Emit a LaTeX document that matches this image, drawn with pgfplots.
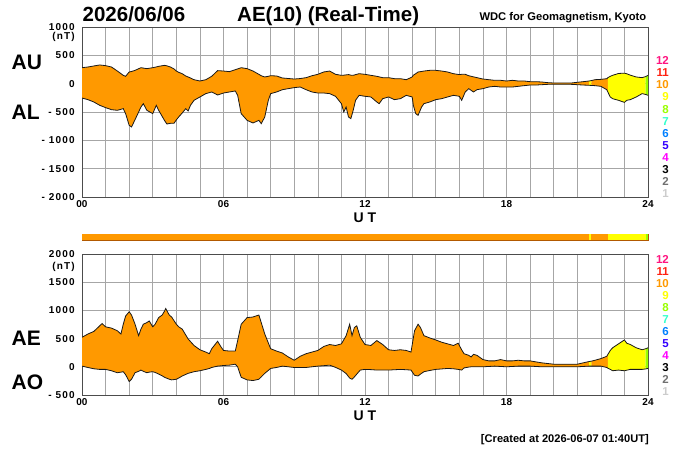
\documentclass[border=0pt]{standalone}
\usepackage{fontspec}
\setmainfont{Liberation Sans}
\usepackage{pgfplots}
\usepackage{pgfplotstable}
\usepgfplotslibrary{fillbetween}
\pgfplotsset{compat=1.18}
\definecolor{cOr}{HTML}{FF9900}
\definecolor{cYe}{HTML}{FFFF00}
\definecolor{cGr}{HTML}{99FF00}
\definecolor{n12}{HTML}{FF1480}
\definecolor{n11}{HTML}{FF2010}
\definecolor{n10}{HTML}{FF9900}
\definecolor{n9}{HTML}{FFFF00}
\definecolor{n8}{HTML}{99FF00}
\definecolor{n7}{HTML}{33FFCC}
\definecolor{n6}{HTML}{0080FF}
\definecolor{n5}{HTML}{3300FF}
\definecolor{n4}{HTML}{FF00FF}
\definecolor{n3}{HTML}{000000}
\definecolor{n2}{HTML}{707070}
\definecolor{n1}{HTML}{CCCCCC}

% AU / AL (nT)
\pgfplotstableread{
t AU AL
0.00 282 -253
0.25 294 -282
0.50 312 -323
0.75 330 -382
1.00 318 -423
1.25 294 -459
1.50 223 -470
1.75 147 -441
1.85 130 -530
2.00 206 -735
2.10 215 -764
2.25 235 -635
2.50 282 -412
2.60 275 -353
2.75 265 -470
3.00 282 -529
3.15 295 -382
3.25 306 -470
3.50 323 -650
3.60 315 -712
3.75 294 -700
3.90 260 -700
4.00 223 -640
4.10 200 -588
4.25 176 -517
4.40 135 -441
4.50 118 -482
4.60 100 -382
4.75 70 -294
5.00 47 -235
5.25 70 -176
5.50 130 -147
5.75 230 -200
6.00 223 -165
6.25 212 -147
6.50 247 -129
6.60 260 -206
6.75 282 -529
7.00 265 -647
7.25 223 -694
7.50 165 -647
7.60 140 -706
7.75 118 -588
7.90 130 -294
8.00 141 -176
8.25 135 -147
8.50 100 -106
9.00 82 -70
9.25 90 -59
9.50 106 -106
9.75 140 -147
10.00 165 -165
10.25 206 -165
10.50 223 -176
10.75 165 -223
11.00 147 -353
11.10 150 -500
11.20 155 -412
11.30 160 -588
11.40 150 -617
11.50 147 -470
11.60 160 -294
11.75 176 -206
12.00 165 -223
12.25 147 -235
12.50 130 -323
12.60 120 -353
12.75 106 -265
13.00 106 -235
13.25 88 -282
13.50 88 -265
13.75 70 -206
14.00 118 -235
14.05 150 -382
14.15 176 -529
14.25 206 -559
14.40 215 -412
14.50 223 -353
14.75 235 -323
15.00 235 -282
15.25 223 -265
15.50 206 -235
15.75 176 -206
16.00 160 -223
16.10 165 -294
16.25 165 -147
16.40 140 -88
16.50 130 -118
16.60 120 -147
16.75 106 -106
17.00 82 -88
17.25 70 -59
17.50 59 -47
17.75 59 -59
18.00 47 -59
18.25 59 -59
18.50 47 -47
18.75 47 -35
19.00 35 -24
19.25 35 -24
19.50 29 -18
19.75 18 -12
20.00 12 -12
20.25 12 -12
20.50 12 -12
20.75 12 -12
21.00 24 -18
21.25 35 -24
21.50 47 -29
21.60 55 -31
21.75 70 -35
22.00 76 -47
22.25 88 -106
22.30 106 -150
22.40 130 -235
22.50 147 -265
22.75 180 -294
23.00 185 -330
23.10 175 -294
23.25 150 -282
23.50 118 -235
23.75 106 -176
23.90 125 -190
24.00 147 -206
}\topdata

% AE / AO (nT)
\pgfplotstableread{
t AE AO
0.00 523 12
0.25 581 -12
0.50 627 -35
0.75 726 -46
0.85 767 -46
1.00 709 -46
1.25 686 -70
1.50 639 -105
1.65 581 -95
1.75 755 -87
1.85 901 -140
2.00 976 -261
2.10 918 -221
2.25 755 -105
2.40 552 -80
2.50 668 -58
2.60 755 -80
2.75 784 -105
2.85 813 -95
3.00 709 -87
3.10 755 -100
3.25 872 -128
3.40 918 -160
3.50 988 -186
3.55 1034 -195
3.70 918 -220
3.80 883 -232
4.00 755 -221
4.10 709 -200
4.25 668 -163
4.50 494 -116
4.75 378 -87
5.00 302 -70
5.25 261 -46
5.40 232 -30
5.50 320 -12
5.75 453 12
5.90 349 18
6.00 290 23
6.25 279 29
6.50 279 46
6.60 465 0
6.75 755 -186
7.00 872 -232
7.25 883 -244
7.50 918 -221
7.60 784 -180
7.75 581 -116
8.00 320 -29
8.25 279 -12
8.50 244 12
8.75 174 0
9.00 116 -12
9.25 186 -12
9.50 232 -12
9.75 261 0
10.00 290 12
10.25 360 20
10.50 395 29
10.75 378 -10
11.00 407 -58
11.20 552 -120
11.35 755 -200
11.45 552 -221
11.55 697 -180
11.65 726 -130
11.80 523 -58
12.00 395 -46
12.25 378 -50
12.50 465 -58
12.75 395 -58
13.00 302 -58
13.25 290 -52
13.50 302 -46
13.75 290 -52
13.95 261 -58
14.10 639 -150
14.25 755 -163
14.35 697 -130
14.50 552 -87
14.75 511 -65
15.00 476 -46
15.25 436 -38
15.50 407 -29
15.75 378 -35
15.95 418 -46
16.10 300 -58
16.20 232 -20
16.40 203 -5
16.50 174 0
16.60 221 0
16.75 203 0
17.00 128 0
17.25 105 6
17.50 105 12
17.75 128 6
18.00 105 0
18.25 105 6
18.50 116 12
18.75 105 12
19.00 105 12
19.25 87 6
19.50 70 0
19.75 58 0
20.00 46 0
20.50 46 0
21.00 46 0
21.25 70 6
21.50 93 12
21.60 100 12
21.75 116 12
22.00 145 12
22.25 186 -12
22.30 220 -25
22.40 290 -45
22.50 337 -70
22.75 407 -58
23.00 476 -70
23.10 418 -60
23.25 395 -46
23.50 337 -46
23.75 302 -46
23.90 320 -38
24.00 337 -29
}\botdata

\pgfplotsset{
  kyoto/.style={
    scale only axis, width=566bp,
    xmin=0, xmax=24,
    xtick={0,6,12,18,24}, xticklabels={00,06,12,18,24},
    minor xtick={1,...,23},
    grid=both,
    major grid style={draw=gray!70, line width=0.6bp},
    minor grid style={draw=gray!70, line width=0.6bp},
    tick style={draw=none},
    axis line style={draw=gray!60!black, line width=0.6bp},
    scaled ticks=false,
    xticklabel style={font=\fontsize{10bp}{12bp}\selectfont\bfseries, inner sep=0pt, yshift=-3bp},
    yticklabel style={font=\fontsize{10bp}{12bp}\selectfont\bfseries\addfontfeature{LetterSpace=12}, inner sep=0pt, xshift=-7bp, anchor=east},
  },
  curve/.style={line width=0.8bp, draw=black!90},
  hid/.style={draw=none, forget plot},
}

\begin{document}
\begin{tikzpicture}
\path (0bp,0bp) rectangle (700bp,450bp);

% ---------- top panel AU / AL ----------
\begin{axis}[kyoto, at={(82bp,253bp)}, anchor=south west, height=170bp,
  ymin=-2000, ymax=1000, ytick={-2000,-1500,...,1000},
  yticklabels={- 2000,- 1500,- 1000,- 500,0,500,1000}]
  \addplot[hid, name path=U1, restrict x to domain=-0.1:21.51] table[x=t,y=AU]{\topdata};
  \addplot[hid, name path=L1, restrict x to domain=-0.1:21.51] table[x=t,y=AL]{\topdata};
  \addplot[hid, name path=U2, restrict x to domain=21.49:21.61] table[x=t,y=AU]{\topdata};
  \addplot[hid, name path=L2, restrict x to domain=21.49:21.61] table[x=t,y=AL]{\topdata};
  \addplot[hid, name path=U3, restrict x to domain=21.59:22.31] table[x=t,y=AU]{\topdata};
  \addplot[hid, name path=L3, restrict x to domain=21.59:22.31] table[x=t,y=AL]{\topdata};
  \addplot[hid, name path=U4, restrict x to domain=22.29:23.91] table[x=t,y=AU]{\topdata};
  \addplot[hid, name path=L4, restrict x to domain=22.29:23.91] table[x=t,y=AL]{\topdata};
  \addplot[hid, name path=U5, restrict x to domain=23.89:24.1] table[x=t,y=AU]{\topdata};
  \addplot[hid, name path=L5, restrict x to domain=23.89:24.1] table[x=t,y=AL]{\topdata};
  \addplot[fill=cOr, draw=none] fill between[of=U1 and L1];
  \addplot[fill=cYe, draw=none] fill between[of=U2 and L2];
  \addplot[fill=cOr, draw=none] fill between[of=U3 and L3];
  \addplot[fill=cYe, draw=none] fill between[of=U4 and L4];
  \addplot[fill=cGr, draw=none] fill between[of=U5 and L5];
  \addplot[curve] table[x=t,y=AU]{\topdata};
  \addplot[curve] table[x=t,y=AL]{\topdata};
\end{axis}

% ---------- colour band ----------
\begin{axis}[scale only axis, width=566bp, height=6bp, at={(82bp,210bp)}, anchor=south west,
  xmin=0, xmax=24, ymin=0, ymax=1, axis line style={draw=orange!70!black, line width=0.5bp},
  xtick=\empty, ytick=\empty]
  \addplot[fill=cOr, draw=none] coordinates {(0,1) (21.5,1)} \closedcycle;
  \addplot[fill=cYe, draw=none] coordinates {(21.5,1) (21.6,1)} \closedcycle;
  \addplot[fill=cOr, draw=none] coordinates {(21.6,1) (22.3,1)} \closedcycle;
  \addplot[fill=cYe, draw=none] coordinates {(22.3,1) (23.9,1)} \closedcycle;
  \addplot[fill=cGr, draw=none] coordinates {(23.9,1) (24,1)} \closedcycle;
\end{axis}

% ---------- bottom panel AE / AO ----------
\begin{axis}[kyoto, at={(82bp,55bp)}, anchor=south west, height=141bp,
  ymin=-500, ymax=2000, ytick={-500,0,...,2000},
  yticklabels={- 500,0,500,1000,1500,2000}]
  \addplot[hid, name path=E1, restrict x to domain=-0.1:21.51] table[x=t,y=AE]{\botdata};
  \addplot[hid, name path=O1, restrict x to domain=-0.1:21.51] table[x=t,y=AO]{\botdata};
  \addplot[hid, name path=E2, restrict x to domain=21.49:21.61] table[x=t,y=AE]{\botdata};
  \addplot[hid, name path=O2, restrict x to domain=21.49:21.61] table[x=t,y=AO]{\botdata};
  \addplot[hid, name path=E3, restrict x to domain=21.59:22.31] table[x=t,y=AE]{\botdata};
  \addplot[hid, name path=O3, restrict x to domain=21.59:22.31] table[x=t,y=AO]{\botdata};
  \addplot[hid, name path=E4, restrict x to domain=22.29:23.91] table[x=t,y=AE]{\botdata};
  \addplot[hid, name path=O4, restrict x to domain=22.29:23.91] table[x=t,y=AO]{\botdata};
  \addplot[hid, name path=E5, restrict x to domain=23.89:24.1] table[x=t,y=AE]{\botdata};
  \addplot[hid, name path=O5, restrict x to domain=23.89:24.1] table[x=t,y=AO]{\botdata};
  \addplot[fill=cOr, draw=none] fill between[of=E1 and O1];
  \addplot[fill=cYe, draw=none] fill between[of=E2 and O2];
  \addplot[fill=cOr, draw=none] fill between[of=E3 and O3];
  \addplot[fill=cYe, draw=none] fill between[of=E4 and O4];
  \addplot[fill=cGr, draw=none] fill between[of=E5 and O5];
  \addplot[curve] table[x=t,y=AE]{\botdata};
  \addplot[curve] table[x=t,y=AO]{\botdata};
\end{axis}

% ---------- texts ----------
\node[anchor=base west, inner sep=0pt, font=\fontsize{20.5bp}{24bp}\selectfont\bfseries] at (82.5bp,428.3bp) {2026/06/06};
\node[anchor=base west, inner sep=0pt, font=\fontsize{20.5bp}{24bp}\selectfont\bfseries] at (237bp,428.3bp) {AE(10) (Real-Time)};
\node[anchor=base east, inner sep=0pt, font=\fontsize{11.2bp}{14bp}\selectfont\bfseries] at (646.5bp,429.3bp) {WDC for Geomagnetism, Kyoto};

\node[anchor=base west, inner sep=0pt, font=\fontsize{21bp}{24bp}\selectfont\bfseries] at (11.5bp,380bp) {AU};
\node[anchor=base west, inner sep=0pt, font=\fontsize{21bp}{24bp}\selectfont\bfseries] at (11.5bp,330bp) {AL};
\node[anchor=base west, inner sep=0pt, font=\fontsize{21bp}{24bp}\selectfont\bfseries] at (11.5bp,104bp) {AE};
\node[anchor=base west, inner sep=0pt, font=\fontsize{21bp}{24bp}\selectfont\bfseries] at (11.5bp,60.5bp) {AO};

\node[anchor=base east, inner sep=0pt, font=\fontsize{10bp}{12bp}\selectfont\bfseries\addfontfeature{LetterSpace=12}] at (75bp,410.3bp) {(nT)};
\node[anchor=base east, inner sep=0pt, font=\fontsize{10bp}{12bp}\selectfont\bfseries\addfontfeature{LetterSpace=12}] at (75bp,180.5bp) {(nT)};

\node[anchor=base, inner sep=0pt, font=\fontsize{14bp}{16bp}\selectfont\bfseries] at (365bp,227.3bp) {U T};
\node[anchor=base, inner sep=0pt, font=\fontsize{14bp}{16bp}\selectfont\bfseries] at (365bp,29.3bp) {U T};

\node[anchor=base east, inner sep=0pt, font=\fontsize{11.1bp}{14bp}\selectfont\bfseries] at (649bp,7.3bp) {[Created at 2026-06-07 01:40UT]};

% station-count keys
\foreach \n in {12,11,...,1} {
  \pgfmathsetmacro{\yt}{450-60.8-(12-\n)*12.08}
  \pgfmathsetmacro{\yb}{450-259.2-(12-\n)*12.07}
  \node[anchor=east, inner sep=0pt, text=n\n, font=\fontsize{11.5bp}{14bp}\selectfont\bfseries] at (669bp,\yt bp) {\n};
  \node[anchor=east, inner sep=0pt, text=n\n, font=\fontsize{11.5bp}{14bp}\selectfont\bfseries] at (669bp,\yb bp) {\n};
}
\pgfresetboundingbox
\path[use as bounding box] (0bp,0bp) rectangle (700bp,450bp);
\end{tikzpicture}
\end{document}
